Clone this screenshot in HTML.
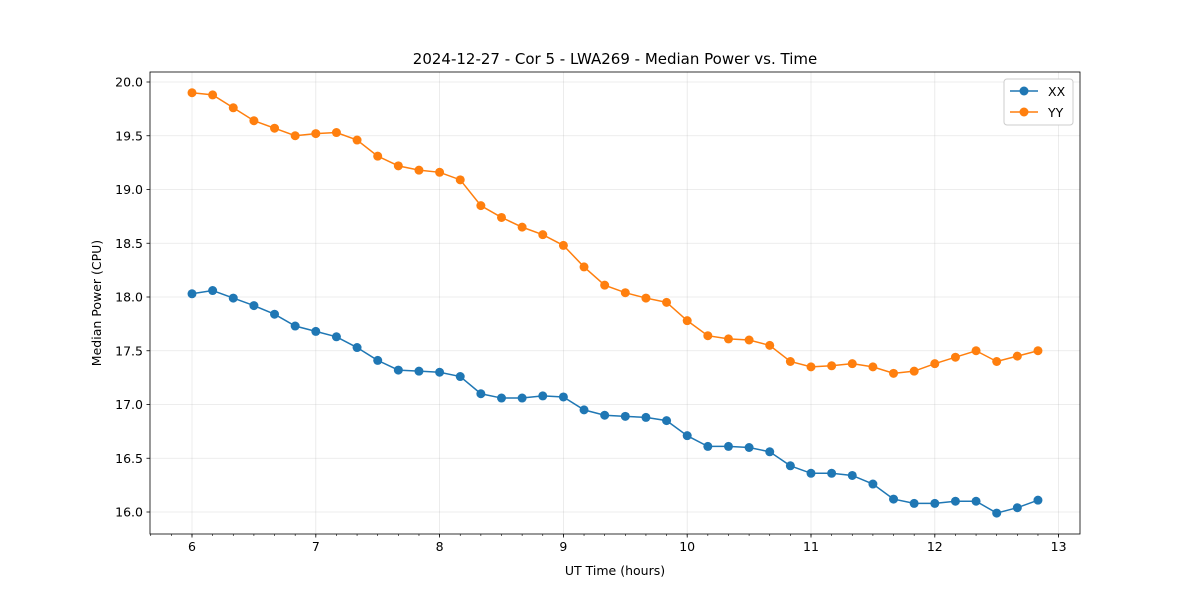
<!DOCTYPE html>
<html><head><meta charset="utf-8"><style>
body{margin:0;background:#fff;}
svg{display:block;font-family:"DejaVu Sans","Liberation Sans",sans-serif;}
</style></head><body>
<svg id="c" width="1200" height="600"></svg>
<script>
const times = [];
const xxValues = [18.03,18.06,17.99,17.92,17.84,17.73,17.68,17.63,17.53,17.41,17.32,17.31,17.30,17.26,17.10,17.06,17.06,17.08,17.07,16.95,16.90,16.89,16.88,16.85,16.71,16.61,16.61,16.60,16.56,16.43,16.36,16.36,16.34,16.26,16.12,16.08,16.08,16.10,16.10,15.99,16.04,16.11];
const yyValues = [19.90,19.88,19.76,19.64,19.57,19.50,19.52,19.53,19.46,19.31,19.22,19.18,19.16,19.09,18.85,18.74,18.65,18.58,18.48,18.28,18.11,18.04,17.99,17.95,17.78,17.64,17.61,17.60,17.55,17.40,17.35,17.36,17.38,17.35,17.29,17.31,17.38,17.44,17.50,17.40,17.45,17.50];
for(let i=0;i<42;i++) times.push(6+i/6);
const xTicks=[6,7,8,9,10,11,12,13];
const yTicks=[16.0,16.5,17.0,17.5,18.0,18.5,19.0,19.5,20.0];

const L=150,R=1080,T=72,B=534;
const xs=v=>192+(v-6)*123.8;
const ys=v=>512-(v-16)*(512-82)/4;
const svg=document.getElementById('c');
const NS='http://www.w3.org/2000/svg';
function mk(tag,attrs,parent){const e=document.createElementNS(NS,tag);for(const k in attrs)e.setAttribute(k,attrs[k]);(parent||svg).appendChild(e);return e;}

xTicks.forEach(t=>{const g=mk('line',{x1:xs(t),x2:xs(t),y1:T,y2:B,stroke:'#b0b0b0','stroke-width':0.8,'stroke-opacity':0.3});
});
yTicks.forEach(t=>{const g=mk('line',{x1:L,x2:R,y1:ys(t),y2:ys(t),stroke:'#b0b0b0','stroke-width':0.8,'stroke-opacity':0.3});
});

for(let v=6-2/6;v<=13.1;v+=1/6){const x=xs(v);if(x<L||x>R)continue;
const m=mk('line',{x1:x,x2:x,y1:B,y2:B+2,stroke:'#000','stroke-width':0.6});
}
xTicks.forEach(t=>{const m=mk('line',{x1:xs(t),x2:xs(t),y1:B,y2:B+3.5,stroke:'#000','stroke-width':0.8});

const tx=mk('text',{x:xs(t),y:B+17,'text-anchor':'middle','font-size':12.5});tx.textContent=t;
});
yTicks.forEach(t=>{const m=mk('line',{x1:L-3.5,x2:L,y1:ys(t),y2:ys(t),stroke:'#000','stroke-width':0.8});

const tx=mk('text',{x:L-7,y:ys(t)+4.5,'text-anchor':'end','font-size':12.5});tx.textContent=t.toFixed(1);
});

function series(vals,color,name){
  const p=mk('polyline',{points:vals.map((v,i)=>xs(times[i])+','+ys(v)).join(' '),fill:'none',stroke:color,'stroke-width':1.5});
  
  vals.forEach((v,i)=>{const c=mk('circle',{cx:xs(times[i]),cy:ys(v),r:4.5,fill:color});
  });
}
series(xxValues,'#1f77b4','xx');
series(yyValues,'#ff7f0e','yy');

const fr=mk('rect',{x:L,y:T,width:R-L,height:B-T,fill:'none',stroke:'#000','stroke-width':0.8});


const ti=mk('text',{x:615,y:64,'text-anchor':'middle','font-size':15});ti.textContent='2024-12-27 - Cor 5 - LWA269 - Median Power vs. Time';

const xl=mk('text',{x:615,y:575,'text-anchor':'middle','font-size':12.5});xl.textContent='UT Time (hours)';

const yl=mk('text',{x:101,y:303,'text-anchor':'middle','font-size':12.5,transform:'rotate(-90 101 303)'});yl.textContent='Median Power (CPU)';


const lg=mk('g',{});

mk('rect',{x:1004,y:79,width:69,height:46,rx:3,fill:'#fff',stroke:'#ccc','stroke-width':1},lg);
[['XX','#1f77b4',91],['YY','#ff7f0e',112]].forEach(([n,c,y])=>{
  const e=mk('g',{},lg);
  mk('line',{x1:1010,x2:1038,y1:y,y2:y,stroke:c,'stroke-width':1.5},e);
  mk('circle',{cx:1024,cy:y,r:4.5,fill:c},e);
  const t=mk('text',{x:1048,y:y+5,'font-size':12.5},e);t.textContent=n;
});
</script>
</body></html>
